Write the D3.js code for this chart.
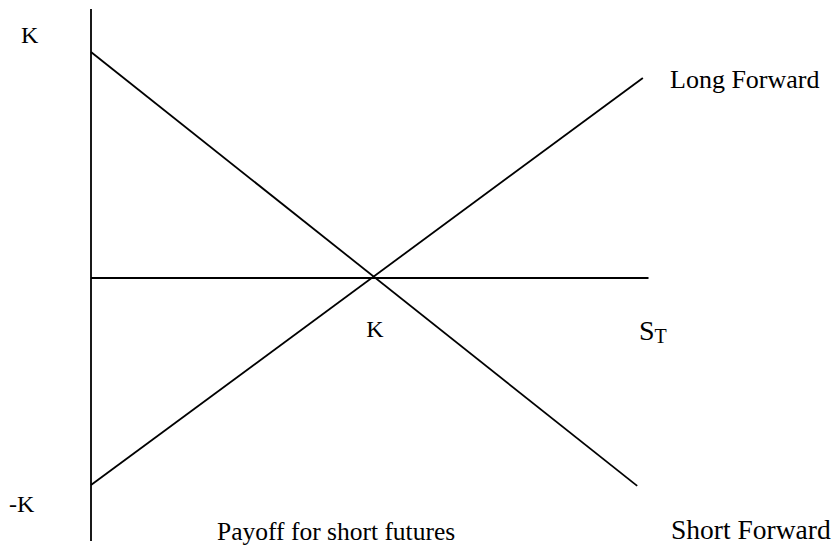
<!DOCTYPE html>
<html>
<head>
<meta charset="utf-8">
<script src="https://cdn.jsdelivr.net/npm/d3@7"></script>
<style>
  body { margin: 0; background: #fff; }
  text { font-family: "Liberation Serif", "Times New Roman", serif; fill: #000; }
</style>
</head>
<body>
<svg id="chart" width="835" height="547"></svg>
<script>
"use strict"

// payoff at expiry, in units of K, against S_T (also in units of K)
var longForward = [{s: 0, p: -0.916}, {s: 1.95, p: 0.885}];
var shortForward = [{s: 0, p: 1}, {s: 1.93, p: -0.92}];
var axisEndS = 1.97;
var yTicks = [{v: 1, label: "K"}, {v: -1, label: "-K"}];
var xTicks = [{v: 1, label: "K"}];

var svg = d3.select("#chart");

var xScale = d3.scaleLinear().domain([0, 1]).range([91, 374]);
var yScale = d3.scaleLinear().domain([0, 1]).range([278, 52]);

var g = svg.append("g");

// axes drawn as plain lines, like the original sketch
g.append("line")
    .attr("x1", xScale(0)).attr("x2", xScale(0))
    .attr("y1", 9).attr("y2", 541)
    .attr("stroke", "#000").attr("stroke-width", 1.8);

g.append("line")
    .attr("x1", xScale(0)).attr("x2", xScale(axisEndS))
    .attr("y1", yScale(0)).attr("y2", yScale(0))
    .attr("stroke", "#000").attr("stroke-width", 1.8);

var line = d3.line()
    .x(function(d) { return xScale(d.s); })
    .y(function(d) { return yScale(d.p); });

[longForward, shortForward].forEach(function(series) {
    g.append("path")
        .datum(series)
        .attr("d", line)
        .attr("fill", "none")
        .attr("stroke", "#000")
        .attr("stroke-width", 1.8);
});

// y labels
g.append("text")
    .attr("x", 21).attr("y", yScale(yTicks[0].v) - 9)
    .style("font-size", "24px")
    .text(yTicks[0].label);
g.append("text")
    .attr("x", 9).attr("y", yScale(yTicks[1].v) + 8)
    .style("font-size", "24px")
    .text(yTicks[1].label);

// x label under crossing
g.append("text")
    .attr("x", xScale(xTicks[0].v) + 1).attr("y", 337)
    .attr("text-anchor", "middle")
    .style("font-size", "24px")
    .text(xTicks[0].label);

// S_T
var st = g.append("text")
    .attr("x", 639).attr("y", 340)
    .style("font-size", "28px");
st.append("tspan").text("S");
st.append("tspan")
    .attr("dy", 3)
    .style("font-size", "20px")
    .text("T");

g.append("text")
    .attr("x", 670).attr("y", 88)
    .style("font-size", "26px")
    .text("Long Forward");

g.append("text")
    .attr("x", 671).attr("y", 539)
    .style("font-size", "27.5px")
    .text("Short Forward");

g.append("text")
    .attr("x", 217).attr("y", 540)
    .style("font-size", "25.5px")
    .text("Payoff for short futures");
</script>
</body>
</html>
